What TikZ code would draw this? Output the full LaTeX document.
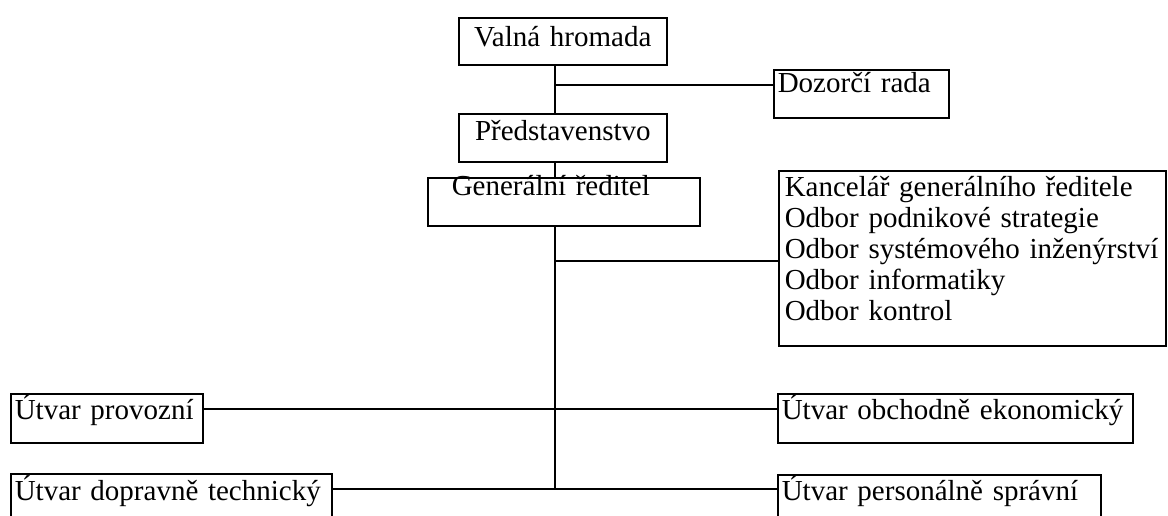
\documentclass[tikz,border=0pt]{standalone}
\usepackage{fontspec}
\setmainfont{Liberation Serif}
\begin{document}
\begin{tikzpicture}[x=1pt,y=-1pt,
  orgbox/.style={draw, line width=1.6pt, inner ysep=0pt, anchor=north west,
    font=\fontsize{29}{31}\selectfont},
  ctr/.style={inner xsep=0pt, text width=#1, align=center},
  lft/.style={inner xsep=4pt, text width=#1-8pt, align=left},
  conn/.style={line width=1.6pt}
]
\clip (0,0) rectangle (1168,516);
\fill[white] (0,0) rectangle (1168,516);

\node[orgbox, ctr=208pt, text height=29pt, text depth=18pt] (valna) at (458,17) {Valná hromada};
\node[orgbox, lft=175pt, text height=23pt, text depth=25pt] (dozor) at (773,69) {Dozorčí rada};
\node[orgbox, ctr=208pt, text height=27pt, text depth=21pt] (pred) at (458,113) {Představenstvo};
\node[orgbox, inner xsep=24pt, text width=224pt, align=left, text height=18pt, text depth=30pt] (gen) at (427,177) {Generální ředitel};
\node[orgbox, inner xsep=6pt, text width=375pt, align=left, text height=26pt, text depth=149pt] (kanc) at (778,170)
  {\mbox{Kancelář generálního ředitele}\\\mbox{Odbor podnikové strategie}\\\mbox{Odbor systémového inženýrství}\\\mbox{Odbor informatiky}\\\mbox{Odbor kontrol}};
\node[orgbox, lft=192pt, text height=26pt, text depth=23pt] (prov) at (10,393) {\mbox{Útvar provozní}};
\node[orgbox, lft=321pt, text height=27pt, text depth=40pt] (dopr) at (10,473) {\mbox{Útvar dopravně technický}};
\node[orgbox, lft=355pt, text height=26pt, text depth=23pt] (obch) at (777,393) {\mbox{Útvar obchodně ekonomický}};
\node[orgbox, lft=323pt, text height=26pt, text depth=40pt] (pers) at (777,474) {\mbox{Útvar personálně správní}};

\coordinate (t0) at (555,85);
\coordinate (t1) at (555,261);
\coordinate (t2) at (555,409);
\coordinate (t3) at (555,489);

\draw[conn] (valna.south -| t0) -- (pred.north -| t0);
\draw[conn] (pred.south -| t0) -- (gen.north -| t0);
\draw[conn] (gen.south -| t0) -- (t3);
\draw[conn] (t0) -- (t0 -| dozor.west);
\draw[conn] (t1) -- (t1 -| kanc.west);
\draw[conn] (t2 -| prov.east) -- (t2 -| obch.west);
\draw[conn] (t3 -| dopr.east) -- (t3 -| pers.west);
\end{tikzpicture}
\end{document}
